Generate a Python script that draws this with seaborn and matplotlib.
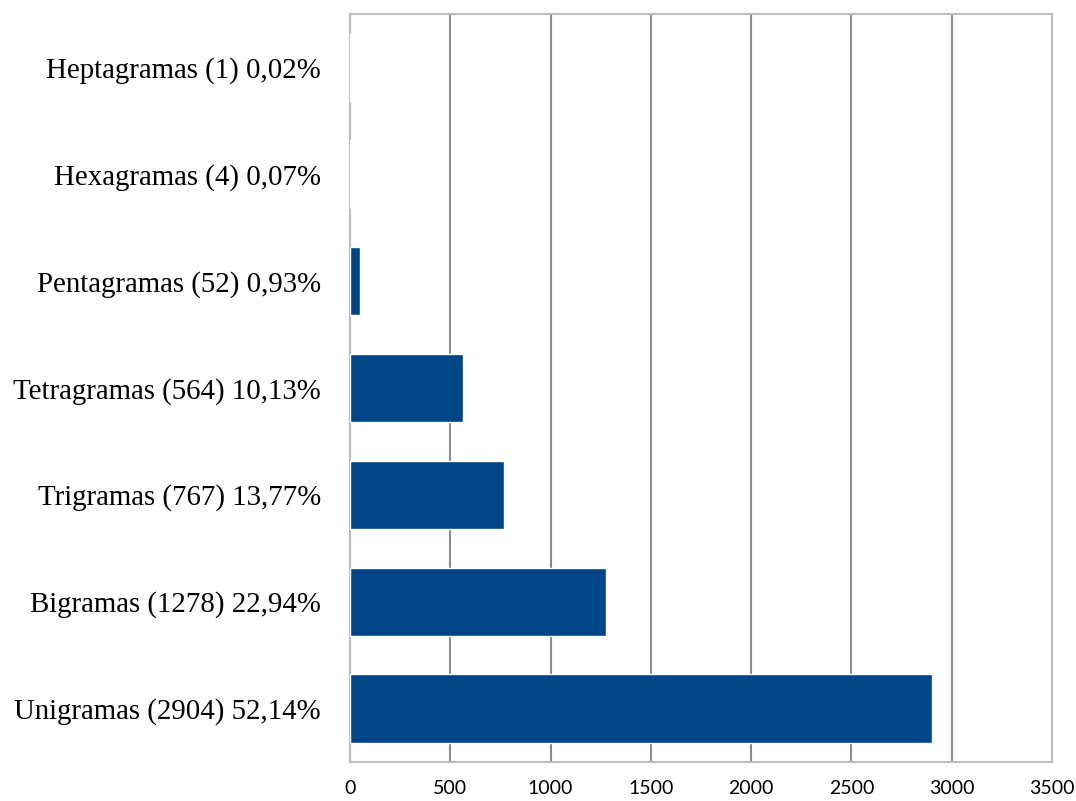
import matplotlib
matplotlib.use("Agg")
import matplotlib.pyplot as plt
import seaborn as sns
import pandas as pd

categories = [
    "Heptagramas (1) 0,02%",
    "Hexagramas (4) 0,07%",
    "Pentagramas (52) 0,93%",
    "Tetragramas (564) 10,13%",
    "Trigramas (767) 13,77%",
    "Bigramas (1278) 22,94%",
    "Unigramas (2904) 52,14%",
]
counts = [1, 4, 52, 564, 767, 1278, 2904]
x_ticks = [0, 500, 1000, 1500, 2000, 2500, 3000, 3500]

df = pd.DataFrame({"label": categories, "count": counts})

sns.set_theme(style="white")
fig = plt.figure(figsize=(10.76, 8.01), dpi=100)
ax = fig.add_axes([350 / 1076, 1 - 762 / 801, 702 / 1076, 748 / 801])

sns.barplot(data=df, x="count", y="label", orient="h", color="#004586",
            saturation=1, width=0.64, ax=ax, zorder=3)

ax.set_xlim(0, 3500)
ax.set_xticks(x_ticks)
ax.set_xticklabels([str(t) for t in x_ticks])
ax.tick_params(axis="x", length=0, pad=13, labelsize=14, labelcolor="black")
ax.tick_params(axis="y", length=0, pad=21, labelsize=20.8, labelcolor="black")
for lbl in ax.get_xticklabels():
    lbl.set_fontfamily("Lato")
for lbl in ax.get_yticklabels():
    lbl.set_fontfamily("Liberation Serif")

ax.set_xlabel("")
ax.set_ylabel("")
ax.grid(axis="x", color="#8c8c8c", linewidth=1.5, zorder=0)
ax.set_axisbelow(True)
for side in ["top", "right", "bottom", "left"]:
    ax.spines[side].set_visible(True)
    ax.spines[side].set_color("#bdbdbd")
    ax.spines[side].set_linewidth(1.5)

fig.savefig("out.png", dpi=100, facecolor="white")
